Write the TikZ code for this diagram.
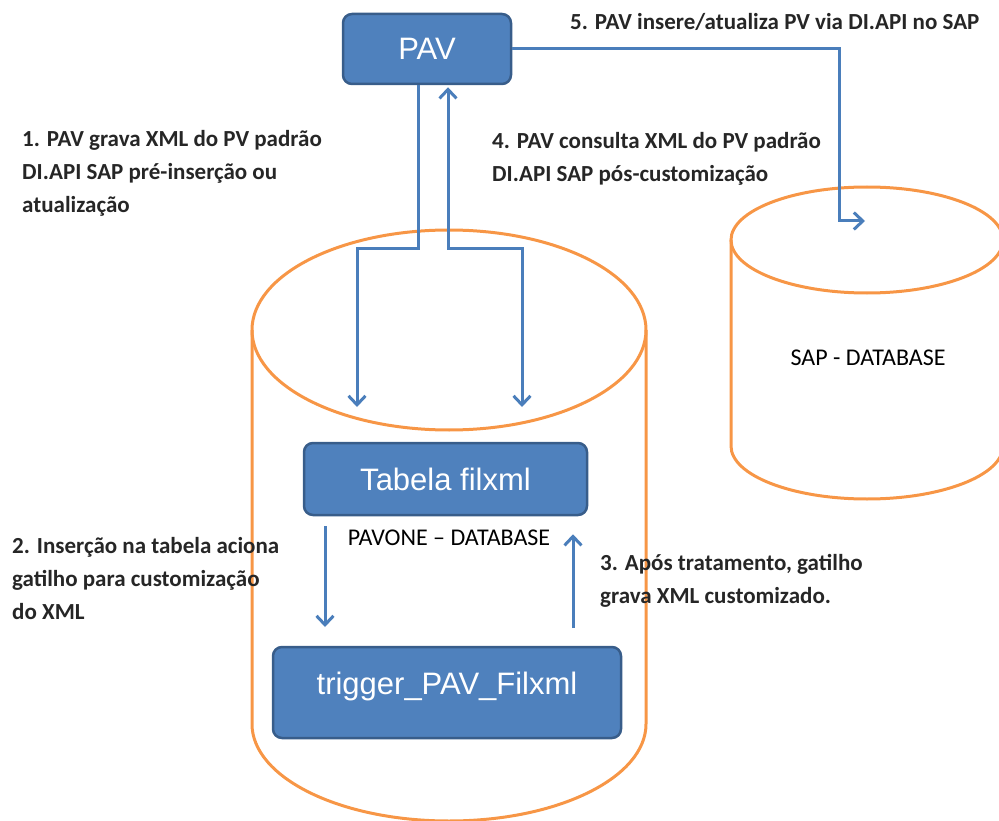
\documentclass[tikz,border=0pt]{standalone}
\usepackage{fontspec}
\setmainfont{Carlito}
\newfontfamily\arialf{Liberation Sans}
\usetikzlibrary{arrows.meta}
\definecolor{boxfill}{HTML}{4F81BD}
\definecolor{boxline}{HTML}{385D8A}
\definecolor{cylcol}{HTML}{F79646}
\definecolor{conncol}{HTML}{4A7EBB}
\begin{document}
\begin{tikzpicture}[x=1pt,y=-1pt,
  >={Straight Barb[length=9pt,width=17pt]},
  bluebox/.style={draw=boxline, line width=2.5pt, fill=boxfill, rounded corners=9pt, text=white, font=\arialf\fontsize{31}{36}\selectfont, inner sep=0pt},
  boxtext/.style={text=white, font=\arialf\fontsize{31}{36}\selectfont, inner sep=0pt},
  cylline/.style={draw=cylcol, line width=3pt},
  conline/.style={draw=conncol, line width=3pt},
  lbl/.style={font=\bfseries\fontsize{23}{33}\selectfont, align=left, anchor=west, inner sep=0pt, text=black!85},
  dbl/.style={font=\fontsize{24}{28}\selectfont, inner sep=0pt, text=black}
]
\useasboundingbox (0,0) rectangle (999,821);
\clip (0,0) rectangle (999,821);
% PAVONE cylinder
\draw[cylline] (449,330) ellipse [x radius=197pt, y radius=100pt];
\draw[cylline] (252,330) -- (252,724) arc[start angle=180,end angle=360,x radius=197pt,y radius=97pt] -- (646,330);
% SAP cylinder
\draw[cylline] (867,240) ellipse [x radius=136pt, y radius=53pt];
\draw[cylline] (731,240) -- (731,446) arc[start angle=180,end angle=360,x radius=136pt,y radius=53pt] -- (1003,240);
% boxes
\node[bluebox, minimum width=168pt, minimum height=70pt] (pav) at (427,49) {PAV};
\node[bluebox, minimum width=283pt, minimum height=72pt] (tab) at (445.5,479) {Tabela filxml};
\node[bluebox, minimum width=348pt, minimum height=91pt] (trig) at (447,692.5) {};
\node[boxtext] (trigtxt) at (447,686) {trigger\_PAV\_Filxml};
% connector coordinates
\coordinate (k1) at (418,249);
\coordinate (k1e) at (357,407);
\coordinate (k4) at (448,249);
\coordinate (k4s) at (522,407);
\coordinate (k5) at (839,221);
\coordinate (k5e) at (865,221);
\coordinate (k2e) at (325,627);
\coordinate (k3s) at (573,628);
% connectors
\draw[conline,->] (pav.south -| k1) -- (k1) -| (k1e);
\draw[conline,<->,shorten >=2pt] (k4s) |- (k4) -- (pav.south -| k4);
\draw[conline,->] (pav.east) -| (k5) -- (k5e);
\draw[conline,->,shorten <=10pt] (tab.south -| k2e) -- (k2e);
\draw[conline,->,shorten >=18pt] (k3s) -- (tab.south -| k3s);
% labels
\node[lbl] (l1) at (22,173) {1. PAV grava XML do PV padrão\\DI.API SAP pré-inserção ou\\atualização};
\node[lbl] (l2) at (12,579) {2. Inserção na tabela aciona\\gatilho para customização\\do XML};
\node[lbl] (l3) at (600,581) {3. Após tratamento, gatilho\\grava XML customizado.};
\node[lbl] (l4) at (492,159) {4. PAV consulta XML do PV padrão\\DI.API SAP pós-customização};
\node[lbl] (l5) at (570,22) {5. PAV insere/atualiza PV via DI.API no SAP};
\node[dbl] (pdb) at (449,538) {PAVONE – DATABASE};
\node[dbl] (sdb) at (868,358) {SAP - DATABASE};
\end{tikzpicture}
\end{document}
